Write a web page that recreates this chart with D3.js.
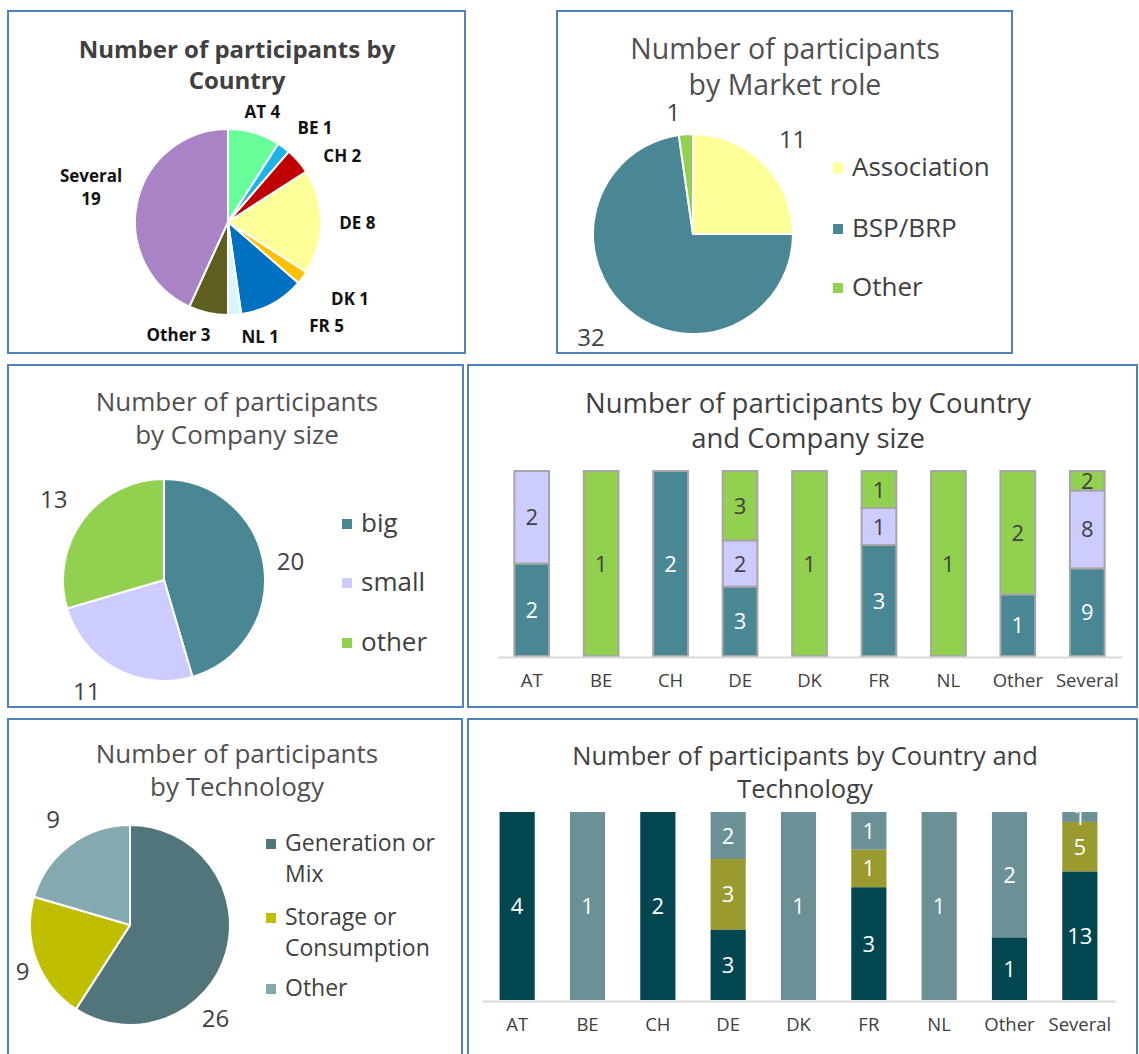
<!DOCTYPE html>
<html>
<head>
<meta charset="utf-8">
<script src="https://cdn.jsdelivr.net/npm/d3@7"></script>
<style>
  body { margin: 0; background: #fff; }
  svg { display: block; font-family: "Open Sans", "DejaVu Sans", sans-serif; }
</style>
</head>
<body>
<svg id="chart"></svg>
<script>
var svgWidth = 1139;
var svgHeight = 1054;

// data
var countries = ["AT", "BE", "CH", "DE", "DK", "FR", "NL", "Other", "Several"];
var countryCounts = [4, 1, 2, 8, 1, 5, 1, 3, 19];

var roles = ["Association", "BSP/BRP", "Other"];
var roleCounts = [11, 32, 1];

var sizes = ["big", "small", "other"];
var sizeCounts = [20, 11, 13];

var techs = ["Generation or Mix", "Storage or Consumption", "Other"];
var techCounts = [26, 9, 9];

var sizeBig = [2, 0, 2, 3, 0, 3, 0, 1, 9];
var sizeSmall = [2, 0, 0, 2, 0, 1, 0, 0, 8];
var sizeOther = [0, 1, 0, 3, 1, 1, 1, 2, 2];

var techGen = [4, 0, 2, 3, 0, 3, 0, 1, 13];
var techStorage = [0, 0, 0, 3, 0, 1, 0, 0, 5];
var techOther = [0, 1, 0, 2, 1, 1, 1, 2, 1];

// colours
var countryColors = ["#66ff99", "#1fb4e8", "#c00000", "#ffff99", "#ffc000", "#0070c0", "#daf5fb", "#5e5e1e", "#a983c5"];
var roleColors = ["#ffff99", "#4a8794", "#92d050"];
var sizeColors = ["#4a8794", "#ccccff", "#92d050"];
var techColors = ["#52757b", "#bfbf00", "#84a9ae"];
var techBarColors = ["#02474f", "#9a9a2e", "#6b9095"];

var svg = d3.select("#chart")
    .attr("width", svgWidth)
    .attr("height", svgHeight);

svg.append("rect").attr("width", svgWidth).attr("height", svgHeight).attr("fill", "#fff");

// panel frames
var panels = [
    [8, 11, 457, 342], [557, 11, 455, 342],
    [8, 365, 455, 342], [468, 365, 669, 342],
    [8, 719, 454, 345], [468, 719, 669, 345]
];
svg.selectAll("rect.frame")
    .data(panels)
    .enter()
    .append("rect")
    .classed("frame", true)
    .attr("x", d => d[0])
    .attr("y", d => d[1])
    .attr("width", d => d[2])
    .attr("height", d => d[3])
    .attr("fill", "none")
    .attr("stroke", "#4f81bd")
    .attr("stroke-width", 2);

function title(lines, cx, y0, lh, size, weight, color) {
    var t = svg.append("text")
        .attr("text-anchor", "middle")
        .attr("font-size", size)
        .attr("font-weight", weight)
        .attr("fill", color);
    lines.forEach((l, i) => {
        t.append("tspan").attr("x", cx).attr("y", y0 + i * lh).text(l);
    });
}

function drawPie(values, colors, cx, cy, r) {
    var g = svg.append("g").attr("transform", `translate(${cx}, ${cy})`);
    var arcs = d3.pie().sort(null)(values);
    g.selectAll("path")
        .data(arcs)
        .enter()
        .append("path")
        .attr("d", d3.arc().innerRadius(0).outerRadius(r))
        .attr("fill", (d, i) => colors[i])
        .attr("stroke", "#fff")
        .attr("stroke-width", 2);
    return { g: g, arcs: arcs };
}

// outside-end labels, pushed away from the pie by half their box
function pieLabels(pie, texts, r, gap, size, weight, color, nudge) {
    pie.arcs.forEach((a, i) => {
        var mid = (a.startAngle + a.endAngle) / 2;
        var s = Math.sin(mid), c = Math.cos(mid);
        var lines = texts[i];
        var t = pie.g.append("text")
            .attr("text-anchor", "middle")
            .attr("font-size", size)
            .attr("font-weight", weight)
            .attr("fill", color);
        lines.forEach((l, k) => {
            t.append("tspan").attr("x", 0).attr("dy", k === 0 ? 0 : size * 1.35).text(l);
        });
        var bb = t.node().getBBox();
        var w = bb.width, h = lines.length * size * 1.2;
        var n = nudge[i] || [0, 0];
        var x = (r + gap) * s + w / 2 * s + n[0];
        var y = -(r + gap) * c - h / 2 * c + n[1];
        var top = y - (lines.length - 1) * size * 1.35 / 2 + size * 0.36;
        t.attr("transform", `translate(${x}, ${top})`);
    });
}

function legend(items, colors, x, ys, size, lineGap) {
    items.forEach((lines, i) => {
        svg.append("rect")
            .attr("x", x)
            .attr("y", ys[i] - 4)
            .attr("width", 10)
            .attr("height", 10)
            .attr("fill", colors[i]);
        var t = svg.append("text")
            .attr("font-size", size)
            .attr("fill", "#404040");
        lines.forEach((l, k) => {
            t.append("tspan").attr("x", x + 19).attr("y", ys[i] + size * 0.36 + k * lineGap).text(l);
        });
    });
}

// ---- panel 1: country pie
title(["Number of participants by", "Country"], 237, 58, 31, 24, 700, "#404040");
var pie1 = drawPie(countryCounts, countryColors, 228, 222, 93);
pieLabels(pie1,
    countries.map((c, i) => c === "Several" ? [c, String(countryCounts[i])] : [c + " " + countryCounts[i]]),
    93, 18, 17, 700, "#111",
    [[-2, 6], [10, 3], [16, 13], [0, 1], [18, 4], [37, -2], [23, -6], [-19, -6], [2, -7]]);

// ---- panel 2: market role pie
title(["Number of participants", "by Market role"], 785, 59, 36, 28.5, 400, "#505050");
var pie2 = drawPie(roleCounts, roleColors, 693, 234, 100);
pieLabels(pie2, roleCounts.map(v => [String(v)]), 100, 13, 24, 400, "#404040",
    [[10, -5], [-19, 7], [-11, 5]]);
legend(roles.map(r => [r]), roleColors, 833, [167, 228, 287], 26, 0);

// ---- panel 3: company size pie
title(["Number of participants", "by Company size"], 237, 411, 33, 26, 400, "#505050");
var pie3 = drawPie(sizeCounts, sizeColors, 164, 580, 101);
pieLabels(pie3, sizeCounts.map(v => [String(v)]), 101, 13, 24, 400, "#404040",
    [[0, 0], [-16, -1], [-8, -4]]);
legend(sizes.map(s => [s]), sizeColors, 342, [523, 582, 642], 26, 0);

// ---- panel 5: technology pie
title(["Number of participants", "by Technology"], 237, 763, 33, 26, 400, "#505050");
var pie5 = drawPie(techCounts, techColors, 130, 925, 100);
pieLabels(pie5, techCounts.map(v => [String(v)]), 100, 13, 24, 400, "#404040",
    [[-36, 57], [5, 2], [-5, -4]]);
legend([["Generation or", "Mix"], ["Storage or", "Consumption"], ["Other"]],
    techColors, 266, [843, 917, 988], 23, 31);

// ---- stacked 100% bars
function stackedBars(series, colors, labelColors, x0, x1, yBottom, yTop, outline, clip) {
    var rows = countries.map((c, i) => {
        var o = { country: c };
        series.forEach((s, k) => { o["s" + k] = s[i]; });
        return o;
    });
    var keys = series.map((s, k) => "s" + k);
    var stacked = d3.stack().keys(keys).offset(d3.stackOffsetExpand)(rows);

    var x = d3.scaleBand().domain(countries).range([x0, x1]).paddingInner(0.5).paddingOuter(0.25);
    var y = d3.scaleLinear().domain([0, 1]).range([yBottom, yTop]);

    var g = svg.append("g");
    var layers = g.selectAll("g.layer")
        .data(stacked)
        .enter()
        .append("g")
        .attr("fill", (d, k) => colors[k]);
    layers.selectAll("rect")
        .data(d => d.filter(p => p[1] - p[0] > 0))
        .enter()
        .append("rect")
        .attr("x", d => x(d.data.country))
        .attr("y", d => y(d[1]))
        .attr("width", x.bandwidth())
        .attr("height", d => y(d[0]) - y(d[1]))
        .attr("stroke", outline ? "#a6a6a6" : "none")
        .attr("stroke-width", outline ? 2 : 0);

    var axis = g.append("g")
        .attr("transform", `translate(0, ${yBottom + 1})`)
        .call(d3.axisBottom(x).tickSize(0).tickSizeOuter(0).tickPadding(17));
    axis.select(".domain").attr("stroke", "#d9d9d9").attr("stroke-width", 2);
    axis.selectAll("text")
        .attr("font-size", 18.5)
        .attr("font-family", "'Open Sans', sans-serif")
        .attr("fill", "#404040");

    var lg = g.append("g");
    if (clip) {
        svg.append("clipPath").attr("id", clip)
            .append("rect").attr("x", x0).attr("y", yTop).attr("width", x1 - x0).attr("height", yBottom - yTop);
        lg.attr("clip-path", `url(#${clip})`);
    }
    stacked.forEach((layer, k) => {
        lg.selectAll("text.l" + k)
            .data(layer.filter(p => p[1] - p[0] > 0))
            .enter()
            .append("text")
            .attr("text-anchor", "middle")
            .attr("font-size", 22)
            .attr("fill", labelColors[k])
            .attr("x", d => x(d.data.country) + x.bandwidth() / 2)
            .attr("y", d => (y(d[0]) + y(d[1])) / 2 + 8)
            .text(d => d.data["s" + k]);
    });
}

// ---- panel 4
title(["Number of participants by Country", "and Company size"], 808, 413, 35, 27.5, 400, "#404040");
stackedBars([sizeBig, sizeSmall, sizeOther], sizeColors, ["#fff", "#404040", "#404040"],
    497, 1122, 656, 471, true, null);

// ---- panel 6
title(["Number of participants by Country and", "Technology"], 805, 765, 33, 25.5, 400, "#404040");
stackedBars([techGen, techStorage, techOther], techBarColors, ["#fff", "#fff", "#fff"],
    482, 1115, 1000, 812, false, "clip6");
</script>
</body>
</html>
